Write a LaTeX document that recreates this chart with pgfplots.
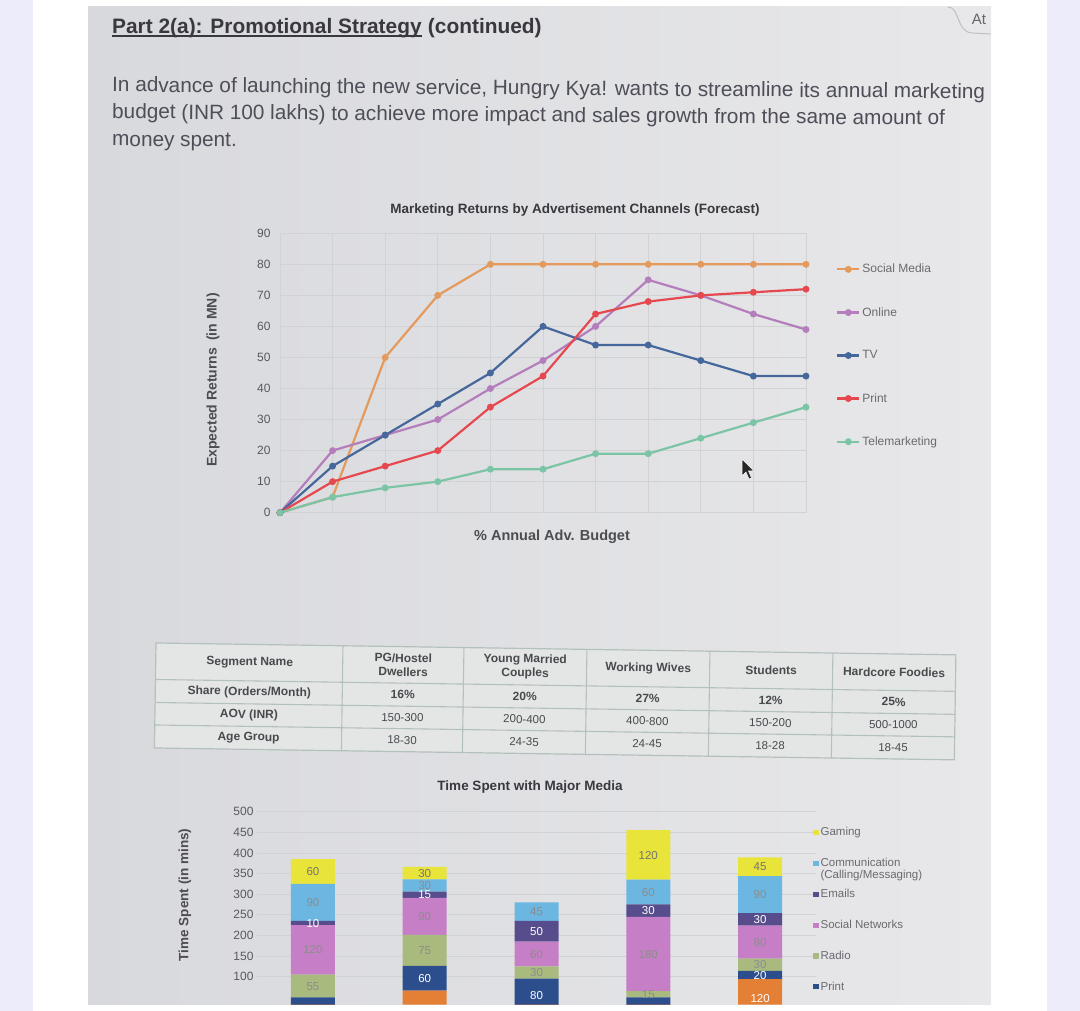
\documentclass[border=0pt]{standalone}
\usepackage{fontspec}
\setmainfont{Liberation Sans}
\usepackage{pgfplots}
\usepackage{pgfplotstable}
\pgfplotsset{compat=1.18}

\definecolor{lav}{HTML}{EDECFB}
\definecolor{pgL}{HTML}{D8D9DD}
\definecolor{pgR}{HTML}{E8E8EA}
\definecolor{gridc}{HTML}{D0D2D4}
\definecolor{tickc}{HTML}{58585E}
\definecolor{legc}{HTML}{6A6A70}
\definecolor{titc}{HTML}{38383E}
\definecolor{bodyc}{HTML}{4E4E58}
\definecolor{cSM}{HTML}{E39A5C}
\definecolor{cON}{HTML}{B47DBC}
\definecolor{cTV}{HTML}{45679B}
\definecolor{cPR}{HTML}{E5494F}
\definecolor{cTM}{HTML}{7CC4A6}
\definecolor{bGa}{HTML}{E8E43A}
\definecolor{bCo}{HTML}{6BB7E2}
\definecolor{bEm}{HTML}{574D8C}
\definecolor{bSo}{HTML}{C67FC6}
\definecolor{bRa}{HTML}{A8BA7E}
\definecolor{bPr}{HTML}{2D4E8C}
\definecolor{bTv}{HTML}{E47F36}
\definecolor{tabl}{HTML}{B4C0BC}
\definecolor{tabf}{HTML}{E4E6E6}
\definecolor{tabt}{HTML}{4A4A4E}

\newcommand\fs[1]{\fontsize{#1}{#1}\selectfont}
\newcommand\fsl[2]{\fontsize{#1}{#2}\selectfont}
\newlength\Lw
% segment label: meta is "<value>:<label>"; the label is centred on the node
\newcommand\seglab[1]{\expandafter\seglabi#1\relax}
\def\seglabi#1:#2\relax{\raisebox{-0.358em}[0pt][0pt]{#2}}

\pgfplotsset{sqleg/.style={legend image code/.code={\fill[##1] (0pt,-2.6pt) rectangle (5.2pt,2.6pt);}}}

% Marketing returns (Expected returns, in MN) vs budget step
\pgfplotstableread{
x  sm  on  tv  pr  tm
0  0   0   0   0   0
1  5   20  15  10  5
2  50  25  25  15  8
3  70  30  35  20  10
4  80  40  45  34  14
5  80  49  60  44  14
6  80  60  54  64  19
7  80  75  54  68  19
8  80  70  49  70  24
9  80  64  44  71  29
10 80  59  44  72  34
}\linedata

% Time spent with major media (mins), stacked bottom to top; label columns are value:label
\pgfplotstableread{
x  tv  tvl     pr  prl    ra  ral    so   sol      em  eml    co  col    ga   gal
1  25  25:     25  25:    55  55:55  120  120:120  10  10:10  90  90:90  60   60:60
2  66  66:     60  60:60  75  75:75  90   90:90    15  15:15  30  30:30  30   30:30
3  15  15:     80  80:80  30  30:30  60   60:60    50  50:50  45  45:45  0    0:
4  30  30:     20  20:    15  15:15  180  180:180  30  30:30  60  60:60  120  120:120
5  94  94:120  20  20:20  30  30:30  80   80:80    30  30:30  90  90:90  45   45:45
}\bardata

\begin{document}%
\settowidth\Lw{\fs{10}In advance of launching the new service, Hungry Kya! wants to streamline its annual marketing}%
\pgfmathsetmacro\bsz{10*873/\Lw}%
\settowidth\Lw{\fs{10}\bfseries Part 2(a): Promotional Strategy (continued)}%
\pgfmathsetmacro\tsz{10*429/\Lw}%
\begin{tikzpicture}[x=1pt,y=1pt]
\useasboundingbox (0,0) rectangle (1080,1011);
\fill[lav] (0,0) rectangle (1080,1011);
\fill[white] (33,0) rectangle (1047,1011);
\shade[left color=pgL, right color=pgR] (88,6) rectangle (991,1004);

% heading
\node[anchor=base west, inner sep=0pt, text=titc, font=\bfseries\fs{\tsz}] (pt) at (112,977.7) {Part 2(a): Promotional Strategy};
\node[anchor=base west, inner sep=0pt, text=titc, font=\bfseries\fs{\tsz}] at ([xshift=0.28*\tsz pt]pt.base east) {(continued)};
\draw[titc, line width=1.2pt] ([yshift=-2.8pt]pt.base west) -- ([yshift=-2.8pt]pt.base east);
\node[anchor=base west, inner sep=0pt, text=bodyc, font=\fs{\bsz}, rotate=-0.45] at (112,919.3) {In advance of launching the new service, Hungry Kya! wants to streamline its annual marketing};
\node[anchor=base west, inner sep=0pt, text=bodyc, font=\fs{\bsz}, rotate=-0.45] at (112,892.5) {budget (INR 100 lakhs) to achieve more impact and sales growth from the same amount of};
\node[anchor=base west, inner sep=0pt, text=bodyc, font=\fs{\bsz}, rotate=-0.45] at (112,865) {money spent.};
% tab
\draw[black!25, line width=1pt] (948,1004) .. controls (960,1004) and (956,979) .. (972,978) -- (991,977);
\node[text=black!60, font=\fs{15}] at (979,992) {At};

% ---------- line chart ----------
\node[font=\bfseries\fs{13.5}, text=titc] at (575,801) {Marketing Returns by Advertisement Channels (Forecast)};
\node[font=\bfseries\fs{14}, text=titc!90, rotate=90] at (213,631) {Expected Returns\enspace(in MN)};
\node[font=\bfseries\fs{14.5}, text=titc!90] at (552,474) {\% Annual Adv. Budget};

\begin{axis}[
  at={(280pt,498.3pt)}, anchor=south west,
  scale only axis, width=526pt, height=279.4pt,
  xmin=0, xmax=10, ymin=0, ymax=90,
  xtick={0,1,...,10}, xticklabels={},
  ytick={0,10,...,90},
  major tick length=0pt,
  grid=major, grid style={draw=gridc, line width=0.8pt},
  axis line style={draw=gridc, line width=0.8pt},
  yticklabel style={font=\fs{12}, text=tickc, xshift=-6pt},
  /pgf/number format/assume math mode=true,
  clip=false,
  legend style={draw=none, fill=none, at={(1.057,0.897)}, anchor=north west,
    font=\fs{12}, text=legc, row sep=29pt, inner sep=0pt, cells={anchor=west}},
  legend image code/.code={\draw[mark repeat=2,mark phase=2,#1] plot coordinates {(0pt,0pt) (11pt,0pt) (22pt,0pt)};},
  every axis plot/.append style={line width=2.2pt, mark=*, mark size=2.3pt, mark options={solid}},
]
\addplot[cSM] table[x=x,y=sm]{\linedata};
\addlegendentry{Social Media}
\addplot[cON] table[x=x,y=on]{\linedata};
\addlegendentry{Online}
\addplot[cTV] table[x=x,y=tv]{\linedata};
\addlegendentry{TV}
\addplot[cPR] table[x=x,y=pr]{\linedata};
\addlegendentry{Print}
\addplot[cTM] table[x=x,y=tm]{\linedata};
\addlegendentry{Telemarketing}
\end{axis}

% cursor
\fill[black!85, draw=white, line width=0.5pt] (742,552) -- ++(0,-17) -- ++(4,4) -- ++(3,-7) -- ++(2.5,1) -- ++(-3,7) -- ++(5.5,0) -- cycle;

% ---------- table ----------
\begin{scope}[rotate around={-0.85:(156,368)}, transform shape]
\fill[tabf] (156,263) rectangle (956,368);
\draw[tabl, line width=1.2pt] (156,263) rectangle (956,368);
\foreach \yy in {331.5,308.5,286} \draw[tabl, line width=1.1pt] (156,\yy) -- (956,\yy);
\foreach \xx in {343,464,587,710,833} \draw[tabl, line width=1.1pt] (\xx,263) -- (\xx,368);
\begin{scope}[every node/.style={text=tabt, align=center, inner sep=0pt}]
\node[font=\bfseries\fsl{12}{14}] at (250,349.75) {Segment Name};
\node[font=\bfseries\fsl{12}{14}] at (403.5,349.75) {PG/Hostel\\Dwellers};
\node[font=\bfseries\fsl{12}{14}] at (525.5,349.75) {Young Married\\Couples};
\node[font=\bfseries\fsl{12}{14}] at (648.5,349.75) {Working Wives};
\node[font=\bfseries\fsl{12}{14}] at (771.5,349.75) {Students};
\node[font=\bfseries\fsl{12}{14}] at (894.5,349.75) {Hardcore Foodies};
\node[font=\bfseries\fs{12}] at (250,320) {Share (Orders/Month)};
\node[font=\bfseries\fs{12}] at (403.5,320) {16\%};
\node[font=\bfseries\fs{12}] at (525.5,320) {20\%};
\node[font=\bfseries\fs{12}] at (648.5,320) {27\%};
\node[font=\bfseries\fs{12}] at (771.5,320) {12\%};
\node[font=\bfseries\fs{12}] at (894.5,320) {25\%};
\node[font=\bfseries\fs{12}] at (250,297.25) {AOV (INR)};
\node[font=\fs{11.5}] at (403.5,297.25) {150-300};
\node[font=\fs{11.5}] at (525.5,297.25) {200-400};
\node[font=\fs{11.5}] at (648.5,297.25) {400-800};
\node[font=\fs{11.5}] at (771.5,297.25) {150-200};
\node[font=\fs{11.5}] at (894.5,297.25) {500-1000};
\node[font=\bfseries\fs{12}] at (250,274.5) {Age Group};
\node[font=\fs{11.5}] at (403.5,274.5) {18-30};
\node[font=\fs{11.5}] at (525.5,274.5) {24-35};
\node[font=\fs{11.5}] at (648.5,274.5) {24-45};
\node[font=\fs{11.5}] at (771.5,274.5) {18-28};
\node[font=\fs{11.5}] at (894.5,274.5) {18-45};
\end{scope}
\end{scope}

% ---------- bar chart ----------
\node[font=\bfseries\fs{13.5}, text=titc] at (530,224) {Time Spent with Major Media};
\node[font=\bfseries\fs{13.5}, text=titc!90, rotate=90] at (185,116) {Time Spent (in mins)};

\begin{axis}[
  at={(257pt,6.3pt)}, anchor=south west,
  scale only axis, width=559pt, height=193pt,
  xmin=0.5, xmax=5.5, ymin=32, ymax=500,
  ybar stacked, bar width=44pt,
  xtick=\empty, ytick={100,150,...,500},
  major tick length=0pt,
  ymajorgrids, grid style={draw=gridc, line width=0.8pt},
  axis line style={draw=none},
  yticklabel style={font=\fs{12}, text=tickc},
  /pgf/number format/assume math mode=true,
  point meta=explicit symbolic,
  nodes near coords={\seglab{\pgfplotspointmeta}},
  nodes near coords align={anchor=base},
  every node near coord/.append style={font=\fs{11.5}, inner sep=0pt, anchor=base},
  legend style={draw=none, fill=none, at={(0.995,0.93)}, anchor=north west,
    font=\fsl{11.5}{12.5}, text=legc, row sep=17pt, inner sep=0pt, cells={anchor=west, align=left}},
  reverse legend,
]
\addplot[fill=bTv, draw=none, sqleg, every node near coord/.append style={text=white}] table[x=x, y=tv, meta=tvl]{\bardata};
\addlegendentry{}
\addplot[fill=bPr, draw=none, sqleg, every node near coord/.append style={text=white}] table[x=x, y=pr, meta=prl]{\bardata};
\addlegendentry{Print}
\addplot[fill=bRa, draw=none, sqleg, every node near coord/.append style={text=black!45}] table[x=x, y=ra, meta=ral]{\bardata};
\addlegendentry{Radio}
\addplot[fill=bSo, draw=none, sqleg, every node near coord/.append style={text=black!45}] table[x=x, y=so, meta=sol]{\bardata};
\addlegendentry{Social Networks}
\addplot[fill=bEm, draw=none, sqleg, every node near coord/.append style={text=white}] table[x=x, y=em, meta=eml]{\bardata};
\addlegendentry{Emails}
\addplot[fill=bCo, draw=none, sqleg, every node near coord/.append style={text=black!45}] table[x=x, y=co, meta=col]{\bardata};
\addlegendentry{\raisebox{0pt}[\height][0pt]{\begin{tabular}[t]{@{}l@{}}Communication\\[-1pt](Calling/Messaging)\end{tabular}}}
\addplot[fill=bGa, draw=none, sqleg, every node near coord/.append style={text=black!55}] table[x=x, y=ga, meta=gal]{\bardata};
\addlegendentry{Gaming}
\end{axis}

% repaint area below the photographed page
\fill[white] (33,0) rectangle (1047,6);
\fill[lav] (0,0) rectangle (33,6);
\fill[lav] (1047,0) rectangle (1080,6);
\end{tikzpicture}
\end{document}
